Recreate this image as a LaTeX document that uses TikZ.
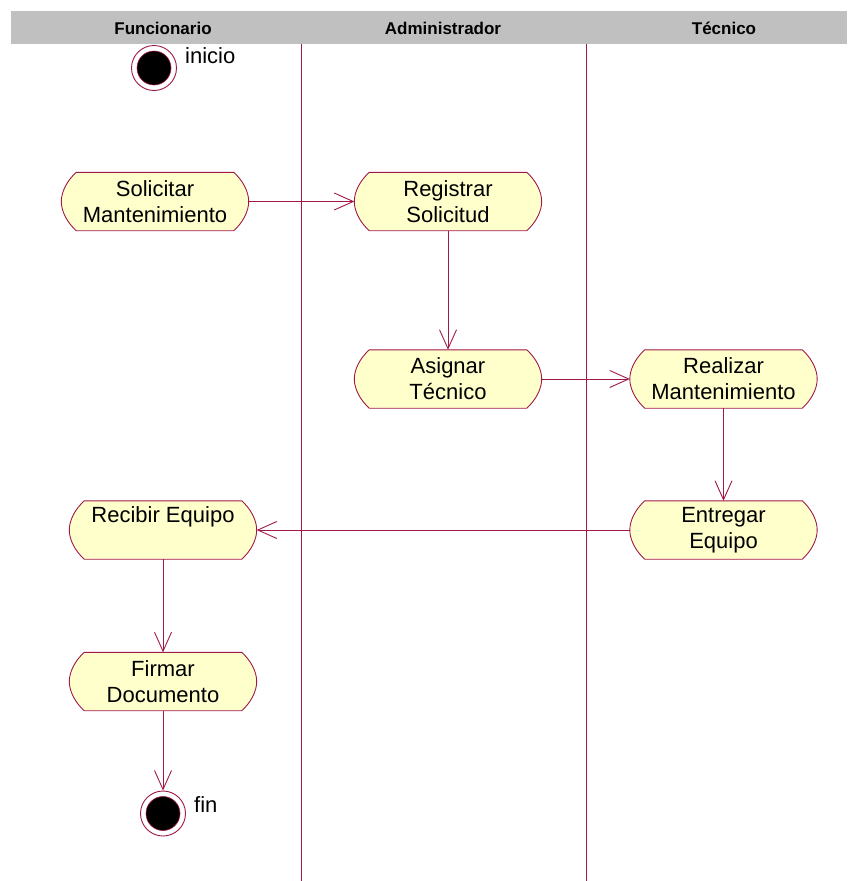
\documentclass[tikz,border=0pt]{standalone}
\usepackage{fontspec}
\setmainfont{Liberation Sans}
\usetikzlibrary{arrows.meta,backgrounds}
\definecolor{lineRed}{RGB}{160,24,72}
\definecolor{actFill}{RGB}{255,255,204}
\definecolor{headGray}{RGB}{192,192,192}
\begin{document}
\begin{tikzpicture}[x=1pt,y=-1pt,
  flow/.style={draw=lineRed, line width=0.9pt,
    -{Straight Barb[length=19pt,width=17pt,line width=0.9pt]}},
  act/.style={minimum width=187pt, minimum height=58pt, inner sep=0pt,
    align=center, font=\fontsize{22}{26}\selectfont},
  actline/.style={draw=lineRed, line width=0.9pt, fill=actFill},
  lane/.style={draw=lineRed, line width=0.9pt},
  lanehead/.style={font=\fontsize{17}{20}\selectfont\bfseries, inner sep=0pt},
  lbl/.style={font=\fontsize{22}{26}\selectfont, anchor=base west, inner sep=0pt},
  ring/.style={circle, draw=lineRed, fill=white, line width=0.9pt,
    minimum size=45pt, inner sep=0pt},
  dot/.style={circle, draw=lineRed, fill=black, line width=0.6pt,
    minimum size=34pt, inner sep=0pt}
]
\useasboundingbox (0,0) rectangle (847,881);

% swimlane header
\fill[headGray] (11,11) rectangle (847,44);
\node[lanehead] (hF) at (163,28) {Funcionario};
\node[lanehead] (hA) at (443,28) {Administrador};
\node[lanehead] (hT) at (724,28) {Técnico};

% lane separators
\coordinate (l1t) at (301,44);
\coordinate (l1b) at (301,881);
\coordinate (l2t) at (586,44);
\coordinate (l2b) at (586,881);
\draw[lane] (l1t) -- (l1b);
\draw[lane] (l2t) -- (l2b);

% start state
\node[ring] (ini) at (154,68) {};
\node[dot] (iniDot) at (ini) {};
\node[lbl] (iniLbl) at (185,63) {inicio};

% activities
\node[act] (sol) at (155,201.5) {Solicitar\\Mantenimiento};
\node[act] (reg) at (448,201.5) {Registrar\\Solicitud};
\node[act] (asi) at (448,379) {Asignar\\Técnico};
\node[act] (rea) at (723.5,379) {Realizar\\Mantenimiento};
\node[act] (ent) at (723.5,530) {Entregar\\Equipo};
\node[act] (rec) at (163,530) {Recibir Equipo\\\phantom{Equipo}};
\node[act] (fir) at (163,681.5) {Firmar\\Documento};

% end state
\node[ring] (fin) at (163,813.5) {};
\node[dot] (finDot) at (fin) {};
\node[lbl] (finLbl) at (194,812) {fin};

% activity outlines behind the labels
\begin{scope}[on background layer]
\foreach \n in {sol,reg,asi,rea,ent,rec,fir}{
  \draw[actline]
    ([shift={(15,0)}]\n.north west) -- ([shift={(-15,0)}]\n.north east)
    .. controls ([shift={(-6,8)}]\n.north east) and ([shift={(0,-10)}]\n.east) .. (\n.east)
    .. controls ([shift={(0,10)}]\n.east) and ([shift={(-6,-8)}]\n.south east) .. ([shift={(-15,0)}]\n.south east)
    -- ([shift={(15,0)}]\n.south west)
    .. controls ([shift={(6,-8)}]\n.south west) and ([shift={(0,10)}]\n.west) .. (\n.west)
    .. controls ([shift={(0,-10)}]\n.west) and ([shift={(6,8)}]\n.north west) .. cycle;
}
\end{scope}

% transitions
\draw[flow] (sol.east) -- (reg.west);
\draw[flow] (reg.south) -- (asi.north);
\draw[flow] (asi.east) -- (rea.west);
\draw[flow] (rea.south) -- (ent.north);
\draw[flow] (ent.west) -- (rec.east);
\draw[flow] (rec.south) -- (fir.north);
\draw[flow] (fir.south) -- (fin.north);
\end{tikzpicture}
\end{document}
